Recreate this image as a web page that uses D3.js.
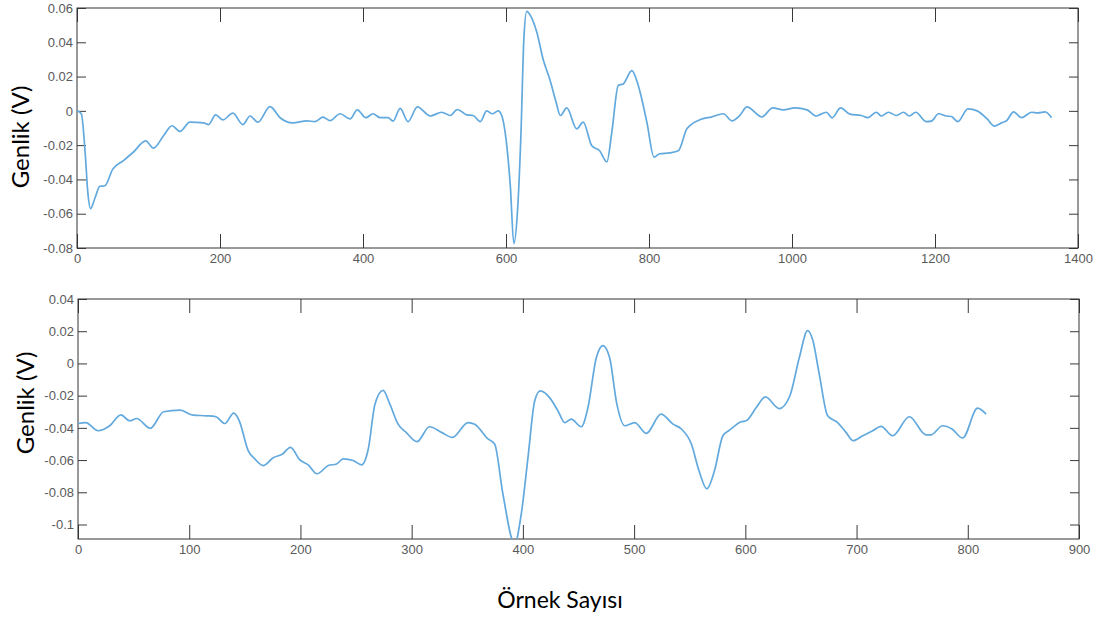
<!DOCTYPE html>
<html>
<head>
<meta charset="utf-8">
<script src="https://cdn.jsdelivr.net/npm/d3@7"></script>
<style>
  body { margin: 0; background: #fff; }
  .tick text { font-family: "Liberation Sans Narrow", "Arial Narrow", "Liberation Sans", sans-serif; font-size: 13px; fill: #5a5a5a; }
  .tick line { stroke: #3a3a3a; }
</style>
</head>
<body>
<svg id="chart" width="1095" height="618"></svg>
<script>
// top panel: sample index vs amplitude
const topSeries = [
  [0, 0], [6, -0.0017], [12, -0.028], [15, -0.047], [19, -0.057], [25, -0.051],
  [32, -0.044], [39, -0.0437], [50, -0.034], [65, -0.029], [79, -0.024], [96, -0.0175],
  [107, -0.0217], [121, -0.0145], [133, -0.0087], [144, -0.012], [158, -0.0066], [177, -0.007],
  [184, -0.008], [194, -0.0023], [204, -0.0053], [218, -0.0013], [232, -0.008], [242, -0.003],
  [253, -0.0066], [270, 0.0025], [284, -0.004], [302, -0.007], [321, -0.0058], [333, -0.0063],
  [344, -0.0037], [354, -0.0057], [368, -0.0017], [382, -0.0047], [392, 0.0006], [404, -0.004],
  [414, -0.0017], [424, -0.004], [435, -0.004], [442, -0.006], [452, 0.0015], [463, -0.0063],
  [476, 0.0023], [494, -0.003], [510, -0.0008], [522, -0.0027], [532, 0.0008], [545, -0.0023],
  [554, -0.0027], [564, -0.0063], [573, 0], [581, -0.0017], [589, 0], [594, -0.0027],
  [600, -0.0163], [606, -0.0435], [611, -0.0775], [616, -0.059], [621, -0.0123], [625, 0.042],
  [629, 0.058], [635, 0.055], [643, 0.046], [652, 0.03], [661, 0.0187], [670, 0.0052],
  [676, -0.0027], [685, 0.0017], [699, -0.0105], [708, -0.0066], [720, -0.0204], [731, -0.0233],
  [741, -0.0298], [748, -0.0124], [757, 0.0148], [764, 0.0157], [776, 0.0235], [785, 0.0148],
  [797, -0.0066], [807, -0.027], [815, -0.025], [829, -0.0245], [841, -0.0233], [853, -0.0105],
  [871, -0.0052], [888, -0.0035], [904, -0.0017], [916, -0.0058], [927, -0.0027], [937, 0.0023],
  [958, -0.0035], [973, 0.0017], [988, 0.0006], [1004, 0.0017], [1021, 0.0006], [1034, -0.003],
  [1048, -0.0008], [1056, -0.0041], [1068, 0.0017], [1081, -0.0019], [1097, -0.0027], [1106, -0.004],
  [1118, -0.0008], [1125, -0.003], [1135, -0.0008], [1146, -0.0027], [1156, -0.0008], [1164, -0.003],
  [1173, -0.0008], [1188, -0.0063], [1195, -0.006], [1205, -0.0017], [1216, -0.003], [1223, -0.0033],
  [1232, -0.0063], [1246, 0.0012], [1259, 0], [1273, -0.0047], [1283, -0.0089], [1293, -0.007],
  [1300, -0.0058], [1310, -0.0006], [1321, -0.004], [1335, -0.0008], [1344, -0.0012], [1354, -0.0006],
  [1363, -0.004]
];

// bottom panel
const bottomSeries = [
  [0, -0.0373], [7, -0.0367], [18, -0.0418], [28.5, -0.0387], [38.6, -0.0319], [46.5, -0.0356],
  [52.7, -0.0342], [65, -0.0403], [77, -0.03], [91.6, -0.029], [103.5, -0.0321], [115.6, -0.0325],
  [124, -0.0331], [132, -0.0373], [140, -0.0309], [145, -0.0356], [153, -0.0541], [159, -0.0593],
  [166.5, -0.0634], [175.5, -0.0586], [184, -0.0562], [191, -0.0521], [199.5, -0.0599], [207, -0.063],
  [215, -0.0685], [225, -0.0634], [232.5, -0.0624], [238.5, -0.0593], [247.4, -0.0603], [255, -0.063],
  [261, -0.0531], [267, -0.0253], [274.3, -0.0167], [280.4, -0.0253], [287.8, -0.0377], [295, -0.0428],
  [304.8, -0.0486], [316, -0.0393], [326.8, -0.0428], [336.6, -0.0459], [350.7, -0.0367], [356.7, -0.0377],
  [368.6, -0.0469], [374.6, -0.05], [382, -0.0809], [392.6, -0.112], [398.6, -0.0932], [404.6, -0.0583],
  [410.6, -0.0233], [415.6, -0.0171], [424, -0.0212], [431.5, -0.0294], [437.6, -0.0367], [443.5, -0.0346],
  [452.5, -0.0393], [458.5, -0.0274], [466, 0.0035], [472, 0.0111], [478, 0.0035], [484.5, -0.0253],
  [491.5, -0.0387], [500.5, -0.0367], [511, -0.0434], [524.2, -0.0315], [535, -0.0377], [542.5, -0.0407],
  [551.5, -0.05], [558.3, -0.0665], [565.4, -0.0778], [572.3, -0.0665], [579.8, -0.0449], [585.8, -0.0414],
  [596.3, -0.0362], [600.8, -0.0356], [609.8, -0.0274], [618, -0.0208], [630.5, -0.028], [640, -0.0202],
  [648.5, 0.0035], [656, 0.0204], [660.5, 0.0148], [666.5, -0.0068], [674, -0.0325], [683, -0.0367],
  [690.5, -0.0428], [697, -0.048], [705.5, -0.0449], [714.4, -0.0418], [722, -0.0391], [732.4, -0.0449],
  [747.5, -0.0331], [762.4, -0.0443], [767, -0.0443], [777.4, -0.0387], [785.8, -0.0407], [795.4, -0.0463],
  [808.8, -0.0278], [816.4, -0.0315]
];

const topXTicks = [0, 200, 400, 600, 800, 1000, 1200, 1400];
const topYTicks = [-0.08, -0.06, -0.04, -0.02, 0, 0.02, 0.04, 0.06];
const topYLabels = ["-0.08", "-0.06", "-0.04", "-0.02", "0", "0.02", "0.04", "0.06"];
const bottomXTicks = [0, 100, 200, 300, 400, 500, 600, 700, 800, 900];
const bottomYTicks = [-0.1, -0.08, -0.06, -0.04, -0.02, 0, 0.02, 0.04];
const bottomYLabels = ["-0.1", "-0.08", "-0.06", "-0.04", "-0.02", "0", "0.02", "0.04"];

const svg = d3.select("#chart");

const panels = [
  { id: "top", data: topSeries, xDom: [0, 1400], yDom: [-0.08, 0.06],
    left: 77, right: 1078, top: 8, bottom: 248,
    xTicks: topXTicks, yTicks: topYTicks, yLabels: topYLabels, labelX: 19, labelY: 137 },
  { id: "bot", data: bottomSeries, xDom: [0, 900], yDom: [-0.109, 0.04],
    left: 78, right: 1079, top: 299, bottom: 539,
    xTicks: bottomXTicks, yTicks: bottomYTicks, yLabels: bottomYLabels, labelX: 24, labelY: 403 }
];

panels.forEach((p) => {
  const x = d3.scaleLinear().domain(p.xDom).range([p.left, p.right]);
  const y = d3.scaleLinear().domain(p.yDom).range([p.bottom, p.top]);

  svg.append("clipPath").attr("id", "clip-" + p.id)
    .append("rect")
    .attr("x", p.left).attr("y", p.top)
    .attr("width", p.right - p.left).attr("height", p.bottom - p.top);

  // axes, ticks inside the box like matlab
  const gl = svg.append("g").attr("transform", `translate(${p.left},0)`)
    .call(d3.axisLeft(y).tickValues(p.yTicks).tickSize(-9).tickPadding(4)
      .tickFormat((d, i) => p.yLabels[i]));
  const gr = svg.append("g").attr("transform", `translate(${p.right},0)`)
    .call(d3.axisRight(y).tickValues(p.yTicks).tickSize(-9).tickFormat(""));
  const gb = svg.append("g").attr("transform", `translate(0,${p.bottom})`)
    .call(d3.axisBottom(x).tickValues(p.xTicks).tickSize(-14).tickPadding(15)
      .tickFormat(d3.format("d")));
  const gt = svg.append("g").attr("transform", `translate(0,${p.top})`)
    .call(d3.axisTop(x).tickValues(p.xTicks).tickSize(-14).tickFormat(""));
  [gl, gr, gb, gt].forEach((g) => g.select(".domain").remove());
  gb.selectAll(".tick text").attr("dy", "0");

  svg.append("rect")
    .attr("x", p.left).attr("y", p.top)
    .attr("width", p.right - p.left).attr("height", p.bottom - p.top)
    .attr("fill", "none").attr("stroke", "#333").attr("stroke-width", 1);

  const line = d3.line()
    .x((d) => x(d[0]))
    .y((d) => y(d[1]))
    .curve(d3.curveMonotoneX);

  svg.append("path")
    .datum(p.data)
    .attr("clip-path", `url(#clip-${p.id})`)
    .attr("d", line)
    .attr("fill", "none")
    .attr("stroke", "#62a9de")
    .attr("stroke-width", 1.7);

  svg.append("text")
    .attr("transform", `translate(${p.labelX},${p.labelY}) rotate(-90)`)
    .attr("text-anchor", "middle")
    .attr("dominant-baseline", "central")
    .style("font-family", "Lato, 'Open Sans', sans-serif")
    .style("font-size", "24px")
    .attr("fill", "#000")
    .text("Genlik (V)");
});

svg.append("text")
  .attr("x", 560)
  .attr("y", 608)
  .attr("text-anchor", "middle")
  .style("font-family", "Lato, 'Open Sans', sans-serif")
  .style("font-size", "23px")
  .attr("fill", "#000")
  .text("Örnek Sayısı");
</script>
</body>
</html>
